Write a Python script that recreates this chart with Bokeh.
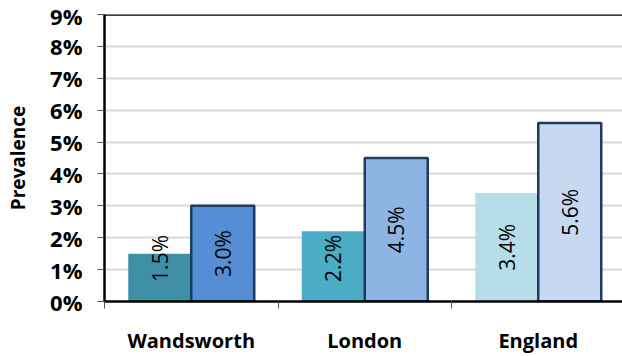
import math
from bokeh.plotting import figure
from bokeh.models import ColumnDataSource, FixedTicker, PrintfTickFormatter, Range1d, Span
from bokeh.core.properties import value
from bokeh.embed import file_html
from bokeh.resources import INLINE

# Prevalence by area, two measures per area (percent)
categories = ["Wandsworth", "London", "England"]
series_a = [1.5, 2.2, 3.4]
series_b = [3.0, 4.5, 5.6]
colors_a = ["#3F8FA6", "#4BACC6", "#B7DEE8"]
colors_b = ["#558ED5", "#8EB4E3", "#C6D9F1"]
y_ticks = [0, 1, 2, 3, 4, 5, 6, 7, 8, 9]

BAR_W = 0.363
LABEL_MIN = 1.35
FONT = "Open Sans"

centers = [i + 0.5 for i in range(len(categories))]

src_a = ColumnDataSource(dict(
    x=[c - BAR_W / 2 for c in centers], top=series_a, color=colors_a,
    ly=[max(v / 2, LABEL_MIN) for v in series_a],
    txt=[f"{v:.1f}%" for v in series_a],
))
src_b = ColumnDataSource(dict(
    x=[c + BAR_W / 2 for c in centers], top=series_b, color=colors_b,
    ly=[max(v / 2, LABEL_MIN) for v in series_b],
    txt=[f"{v:.1f}%" for v in series_b],
))

p = figure(width=622, height=356, output_backend="svg", toolbar_location=None,
           x_range=Range1d(0, 518 / 173.5), y_range=Range1d(0, 9),
           min_border_left=104, min_border_right=0, min_border_top=14,
           min_border_bottom=54)
p.outline_line_color = None
p.background_fill_color = "white"
p.border_fill_color = "white"

p.vbar(x="x", top="top", bottom=0, width=BAR_W, source=src_a,
       fill_color="color", line_color=None)
p.vbar(x="x", top="top", bottom=0, width=BAR_W, source=src_b,
       fill_color="color", line_color="#1F3A60", line_width=2.5)

for src in (src_a, src_b):
    p.text(x="x", y="ly", text="txt", source=src, angle=math.pi / 2,
           text_align="center", text_baseline="middle",
           text_font=value(FONT), text_font_size="21px", text_color="black")

# top border of the plot area
p.add_layout(Span(location=9, dimension="width", line_color="black", line_width=2.5))

# x axis: labels at category centres, ticks on the category boundaries
xa = p.xaxis[0]
xa.ticker = FixedTicker(ticks=centers, minor_ticks=[0, 1, 2, 3])
xa.major_label_overrides = {c: name for c, name in zip(centers, categories)}
xa.major_tick_in = 0
xa.major_tick_out = 0
xa.minor_tick_in = 0
xa.minor_tick_out = 7
xa.minor_tick_line_color = "#555555"
xa.axis_line_color = "black"
xa.axis_line_width = 2.5
xa.major_label_text_font = FONT
xa.major_label_text_font_style = "bold"
xa.major_label_text_font_size = "20px"
xa.major_label_text_color = "black"
xa.major_label_standoff = 18

ya = p.yaxis[0]
ya.ticker = FixedTicker(ticks=y_ticks)
ya.formatter = PrintfTickFormatter(format="%d%%")
ya.major_tick_in = 0
ya.major_tick_out = 7
ya.minor_tick_out = 0
ya.minor_tick_in = 0
ya.major_tick_line_color = "#555555"
ya.axis_line_color = "black"
ya.axis_line_width = 2.5
ya.major_label_text_font = FONT
ya.major_label_text_font_style = "bold"
ya.major_label_text_font_size = "22px"
ya.major_label_text_color = "black"
ya.major_label_standoff = 15
ya.axis_label = "Prevalence"
ya.axis_label_text_font = FONT
ya.axis_label_text_font_style = "bold"
ya.axis_label_text_font_size = "19px"
ya.axis_label_text_color = "black"
ya.axis_label_standoff = 16

p.xgrid.grid_line_color = None
p.ygrid.grid_line_color = "#D9D9D9"
p.ygrid.grid_line_width = 2

open("out.html", "w").write(file_html(p, INLINE))
